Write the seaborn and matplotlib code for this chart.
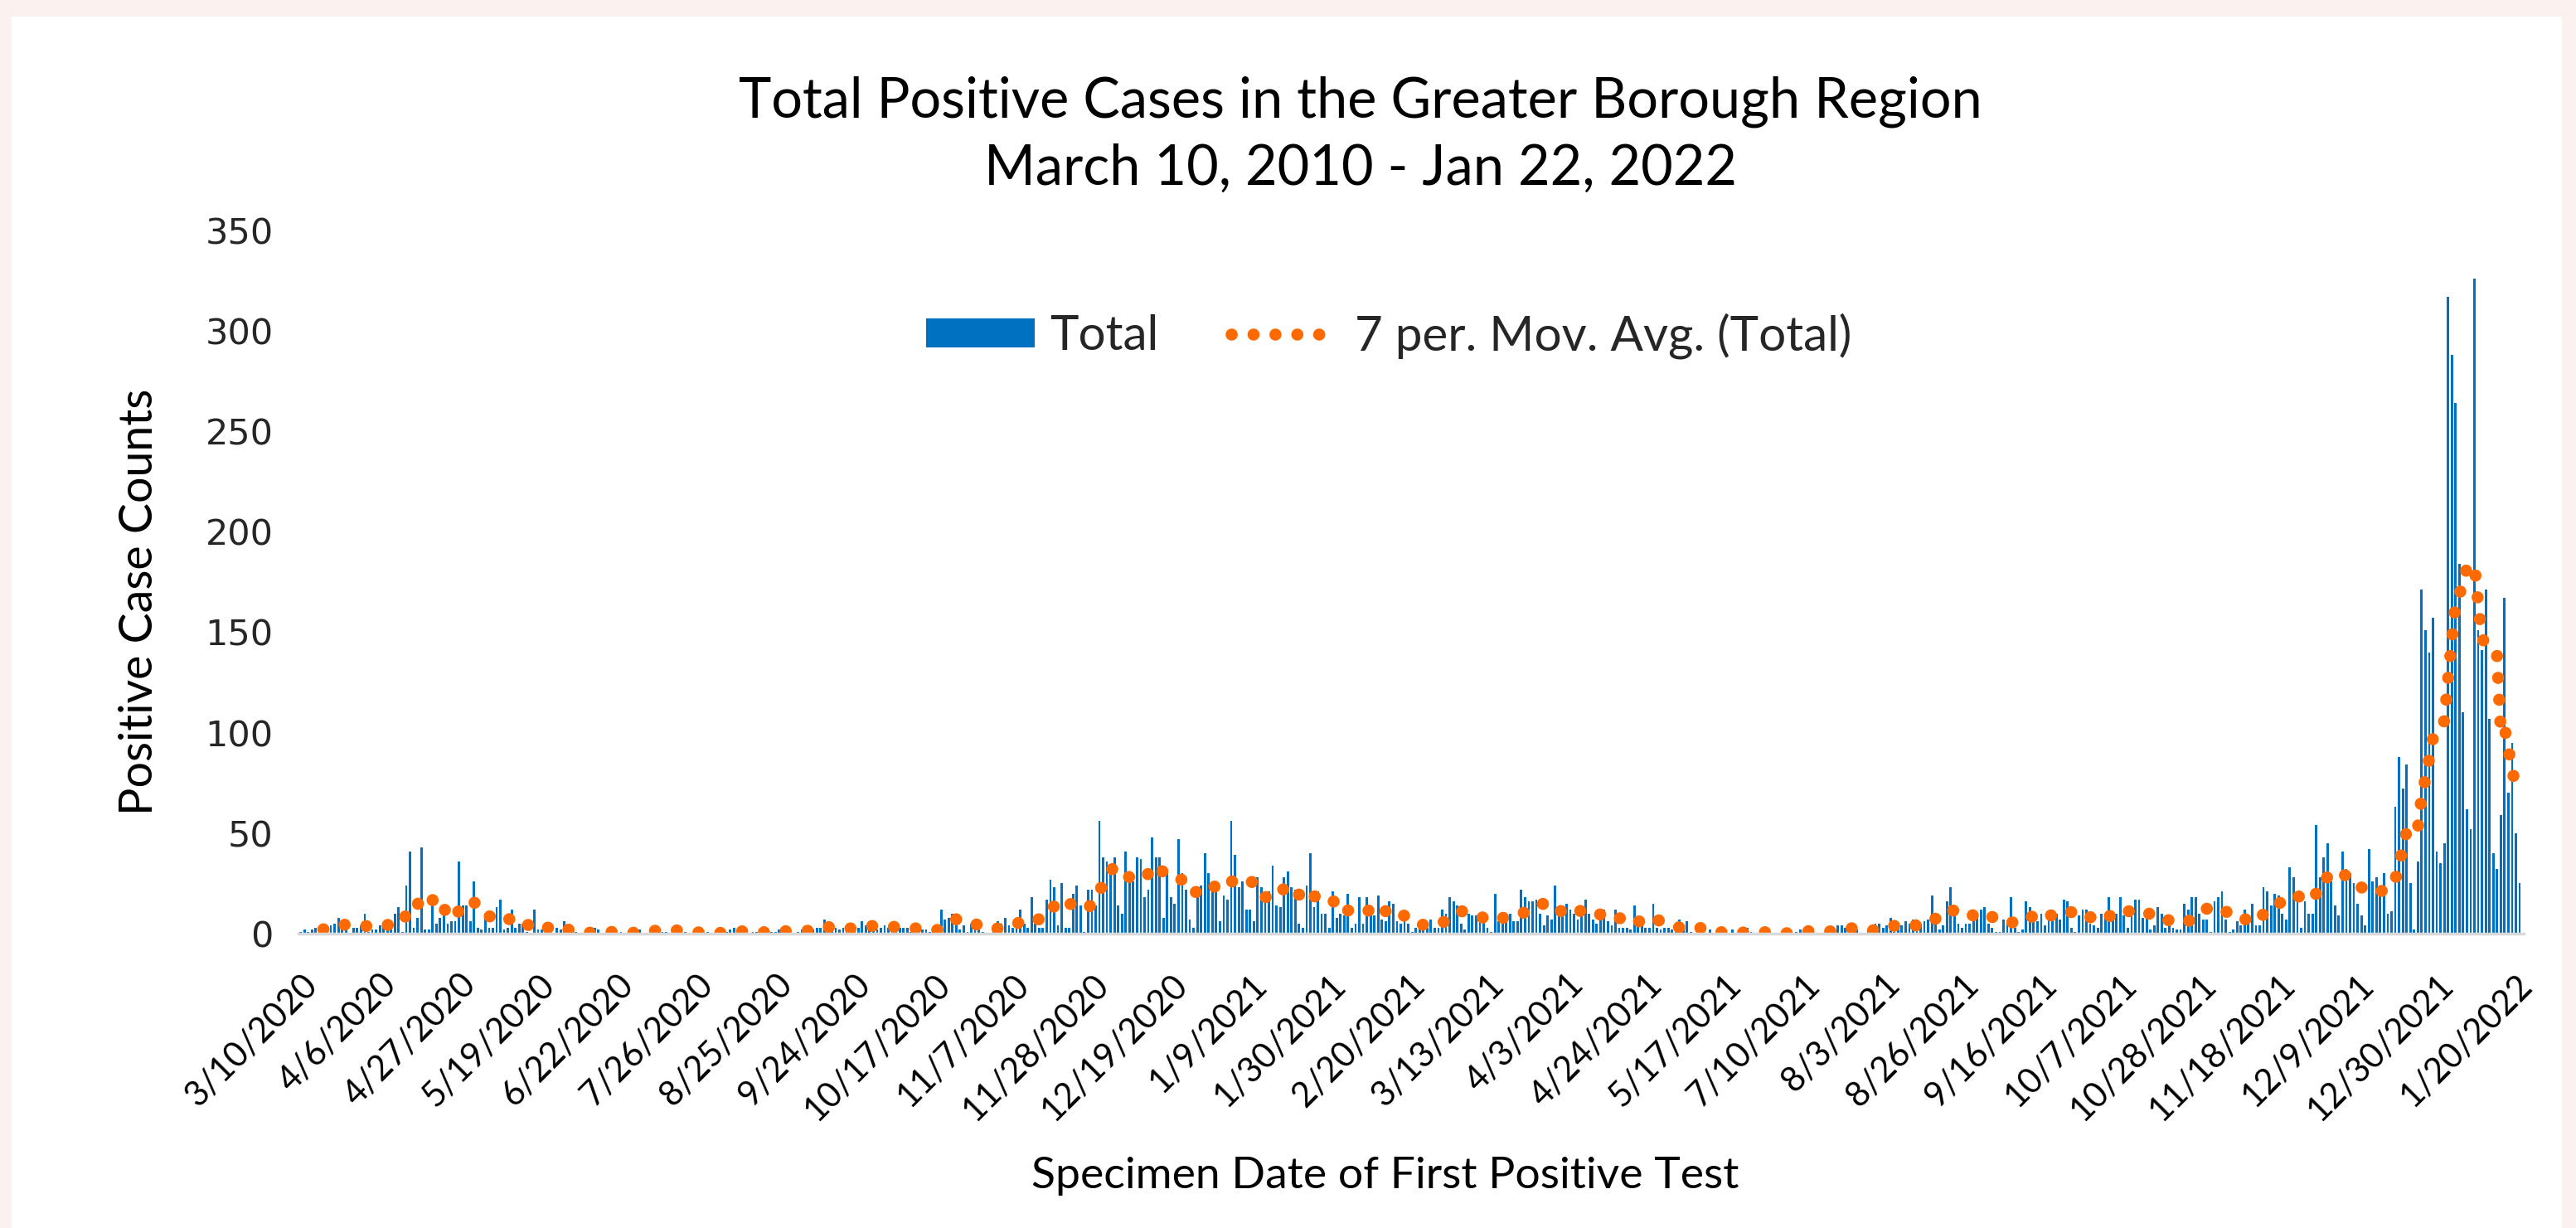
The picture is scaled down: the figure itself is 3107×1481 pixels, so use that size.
import numpy as np
import pandas as pd
import matplotlib.pyplot as plt
import seaborn as sns
from matplotlib.patches import Rectangle

# daily positive counts, one value per specimen date (left to right)
counts_spring_2020 = [1, 2, 1, 2, 3, 3, 3, 3, 4, 5,
                      8, 5, 3, 0, 3, 3, 4, 10, 1, 2,
                      2, 4, 5, 7, 5, 10, 13, 1, 24, 41,
                      3, 8, 43, 2, 2, 18, 5, 8, 14, 5,
                      6, 6, 36, 14, 14, 6, 26, 3, 2, 8,
                      3, 3, 13, 17, 2, 3, 12, 3, 5, 5,
                      1, 0, 12, 2, 2, 2, 0, 0, 3, 2,
                      6, 1, 0, 1, 0, 0, 0, 0, 3, 2,
                      0, 0, 1, 0, 0, 1, 0, 0, 1, 1,
                      2, 0, 0, 3, 3, 3, 1, 1, 0, 1,
                      2]
counts_summer_2020 = [0, 1, 0, 0, 1, 0, 0, 1, 0, 0, 1, 0, 1,
                      2, 3, 1, 0, 1, 0, 1, 1, 1, 1,
                      1, 1, 1, 2, 0, 3, 0, 0, 1, 2,
                      3, 2, 2, 3, 3, 7, 3, 2, 3, 2,
                      3, 2, 3, 3, 3, 6, 4, 5, 3, 2,
                      3, 4, 3, 4, 4, 3, 3, 3, 1, 1,
                      1, 2, 2, 1, 2, 4, 12, 7, 8, 10,
                      7, 2, 4, 1, 5, 6, 2, 1, 0, 0,
                      3, 6, 5, 8, 4, 3, 4, 12, 5, 3]
counts_winter_2020 = [18, 5, 3, 3, 17, 27, 23, 4, 25, 3,
                      3, 20, 24, 14, 1, 22, 22, 14, 56, 38,
                      36, 30, 38, 14, 10, 41, 27, 26, 38, 37,
                      18, 22, 48, 38, 38, 8, 30, 18, 15, 47,
                      30, 22, 7, 3, 23, 24, 40, 30, 26, 26,
                      6, 19, 17, 56, 39, 23, 26, 12, 12, 6,
                      28, 23, 21, 21, 34, 14, 13, 28, 31, 23,
                      22, 5, 3, 24, 40, 13, 21, 10, 10, 3,
                      21, 8, 10, 9, 20, 3, 5, 18, 5, 18,
                      14, 9, 19, 7, 6, 16, 15]
counts_spring_2021 = [6, 5, 6, 5, 1, 3, 5, 6, 3, 7,
                      3, 3, 12, 10, 18, 16, 14, 5, 2, 10,
                      9, 9, 10, 10, 3, 1, 20, 6, 5, 10,
                      10, 6, 6, 22, 18, 16, 16, 17, 10, 4,
                      9, 7, 24, 12, 9, 15, 12, 10, 7, 9,
                      17, 10, 7, 5, 12, 12, 6, 4, 12, 3,
                      3, 3, 2, 14, 7, 7, 3, 3, 15, 3,
                      2, 3, 3, 2, 1, 7, 4, 6, 1, 0,
                      0, 2, 0, 2, 0, 0, 1, 0, 0, 2,
                      0, 0, 1, 3, 1, 0, 0, 0, 0, 1, 0]
counts_summer_2021 = [0, 0, 0, 1, 0, 1, 2, 1, 3, 3,
                      0, 0, 0, 2, 0, 2, 4, 4, 3, 3,
                      3, 2, 0, 0, 2, 1, 5, 5, 3, 4,
                      8, 1, 2, 4, 6, 5, 7, 2, 5, 6,
                      7, 19, 6, 2, 4, 16, 23, 12, 5, 3,
                      5, 5, 10, 10, 12, 13, 5, 3, 1, 1,
                      7, 5, 18, 3, 1, 2, 16, 13, 7, 6,
                      10, 4, 10, 12, 10, 7, 17, 16, 3, 1,
                      9, 12, 12, 5, 4, 3, 10, 10, 18, 10,
                      10, 18, 9]
counts_fall_2021 = [3, 10, 17, 17, 8, 10, 2, 4, 13, 10,
                    3, 4, 3, 2, 2, 15, 12, 18, 18, 10,
                    7, 7, 1, 16, 18, 21]
counts_winter_2021 = [7, 1, 2, 6, 4, 12, 6, 15, 4, 4,
                      23, 21, 14, 20, 19, 10, 7, 33, 28, 19,
                      3, 16, 10, 10, 54, 28, 38, 45, 26, 14,
                      9, 41, 32, 30, 25, 15, 9, 4, 42, 26,
                      28, 19, 30, 10, 11, 63, 88, 72, 84, 25,
                      2, 36, 171, 151, 140, 157, 41, 35, 45, 317,
                      288, 264, 184, 110, 62, 52, 326, 151, 141, 171,
                      107, 40, 32, 59, 167, 70, 95, 50, 25]

tick_labels = ['3/10/2020', '4/6/2020', '4/27/2020', '5/19/2020', '6/22/2020',
               '7/26/2020', '8/25/2020', '9/24/2020', '10/17/2020', '11/7/2020',
               '11/28/2020', '12/19/2020', '1/9/2021', '1/30/2021', '2/20/2021',
               '3/13/2021', '4/3/2021', '4/24/2021', '5/17/2021', '7/10/2021',
               '8/3/2021', '8/26/2021', '9/16/2021', '10/7/2021', '10/28/2021',
               '11/18/2021', '12/9/2021', '12/30/2021', '1/20/2022']
label_step = 21

total = (counts_spring_2020 + counts_summer_2020 + counts_winter_2020 +
         counts_spring_2021 + counts_summer_2021 + counts_fall_2021 +
         counts_winter_2021)
df = pd.DataFrame({'day': np.arange(len(total)), 'total': total})
df['avg7'] = df['total'].rolling(7).mean()

sns.set_style('white')
plt.rcParams['font.family'] = ['Lato', 'DejaVu Sans']

W, H = 3107, 1481
fig = plt.figure(figsize=(W / 100, H / 100), dpi=100, facecolor='#fbf2ef')
fig.patches.append(Rectangle((14 / W, 0), (3090 - 14) / W, 1 - 20 / H,
                             transform=fig.transFigure, facecolor='white',
                             edgecolor='none', zorder=-10))

ax = fig.add_axes([360 / W, 1 - 1126 / H, (3044 - 360) / W, (1126 - 277.6) / H])
ax.set_zorder(2)
ax.set_facecolor('white')

sns.barplot(data=df, x='day', y='total', native_scale=True, color='#0070c0',
            saturation=1, width=0.62, errorbar=None, label='Total',
            linewidth=0, edgecolor='none', antialiased=False, ax=ax)
sns.lineplot(data=df, x='day', y='avg7', color='#ff6a00', linewidth=10.5,
             linestyle=(0, (0.01, 1.8)), dash_capstyle='round',
             label='7 per. Mov. Avg. (Total)', ax=ax)

ax.set_xlim(-0.6, len(total) + 0.1)
ax.set_ylim(0, 350)
ax.set_yticks(range(0, 351, 50))
ax.set_yticklabels([str(v) for v in range(0, 351, 50)], family='DejaVu Sans',
                   fontsize=31, color='#262626')
ticks = df['day'][::label_step]
ax.set_xticks(ticks)
ax.set_xticklabels(tick_labels, rotation=45, ha='right', rotation_mode='anchor',
                   fontsize=30, color='black')
ax.tick_params(axis='both', length=0)
ax.tick_params(axis='x', pad=30)
ax.tick_params(axis='y', pad=22)
ax.set_xlabel('')
ax.set_ylabel('')
for side in ['top', 'right', 'left']:
    ax.spines[side].set_visible(False)
ax.spines['bottom'].set_color('#d9d9d9')
ax.spines['bottom'].set_linewidth(2.5)
ax.grid(False)

handles, labels = ax.get_legend_handles_labels()
order = [labels.index('Total'), labels.index('7 per. Mov. Avg. (Total)')]
ax.legend([handles[i] for i in order], [labels[i] for i in order],
          loc='center', bbox_to_anchor=(1675 / W, 1 - 405 / H),
          bbox_transform=fig.transFigure, ncol=2, frameon=False, fontsize=42,
          handlelength=2.25, handleheight=0.55, handletextpad=0.31,
          columnspacing=1.5)

fig.text(1641 / W, 1 - 123 / H, 'Total Positive Cases in the Greater Borough Region',
         ha='center', va='center', fontsize=48, color='black')
fig.text(1641 / W, 1 - 204 / H, 'March 10, 2010 - Jan 22, 2022',
         ha='center', va='center', fontsize=48, color='black')
fig.text(169 / W, 1 - 726 / H, 'Positive Case Counts', rotation=90,
         ha='center', va='center', fontsize=40, color='black')
fig.text(1671 / W, 1 - 1419 / H, 'Specimen Date of First Positive Test',
         ha='center', va='center', fontsize=38.5, color='black')

fig.savefig('out.png', dpi=100, facecolor=fig.get_facecolor())
